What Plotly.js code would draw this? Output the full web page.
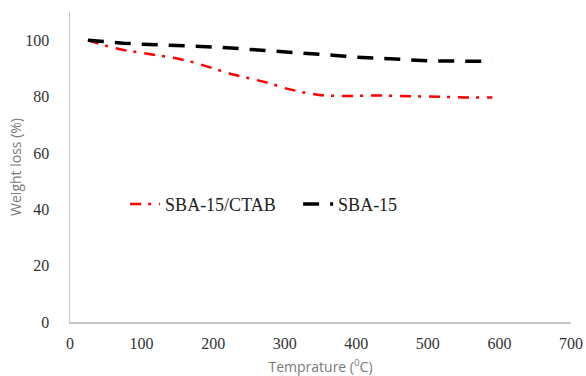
<!DOCTYPE html>
<html><head><meta charset="utf-8">
<script src="https://cdn.plot.ly/plotly-3.0.1.min.js"></script>
<style>body{margin:0;background:#fff}#c{width:586px;height:376px}</style>
</head><body><div id="c"></div>
<script>
const temperature = [25, 50, 75, 100, 125, 150, 175, 200, 225, 250, 275, 300, 325, 350, 375, 400, 425, 450, 475, 500, 525, 550, 575, 590];
const sbaCtab = [100, 98, 96.5, 95.5, 94.5, 93.5, 92, 90, 88, 86.5, 85, 83, 81.5, 80.5, 80.2, 80.2, 80.4, 80.3, 80.1, 79.9, 79.8, 79.7, 79.7, 79.7];
const sba15 = [100, 99.3, 98.9, 98.6, 98.4, 98.2, 98, 97.6, 97.2, 96.8, 96.3, 95.9, 95.4, 95, 94.5, 94, 93.6, 93.3, 93, 92.7, 92.6, 92.5, 92.5, 92.5];
const seriesNames = ["SBA-15/CTAB", "SBA-15"];
const xTicks = [0, 100, 200, 300, 400, 500, 600, 700];
const yTicks = [0, 20, 40, 60, 80, 100];

const traces = [
  {x: temperature, y: sbaCtab, name: seriesNames[0], mode: "lines",
   line: {color: "#ff0000", width: 2.5, dash: "11px,7px,3px,8px"}},
  {x: temperature, y: sba15, name: seriesNames[1], mode: "lines",
   line: {color: "#000000", width: 3.5, dash: "16px,11px"}}
];
const serif = "'Liberation Serif', 'Times New Roman', serif";
const layout = {
  width: 586, height: 376,
  margin: {l: 70, r: 15, t: 12, b: 54},
  paper_bgcolor: "#fff", plot_bgcolor: "#fff",
  showlegend: true,
  legend: {orientation: "h", x: 0.11, y: 0.38, xanchor: "left", yanchor: "middle",
           entrywidth: 128,
           font: {family: serif, size: 18, color: "#222"},
           bgcolor: "rgba(0,0,0,0)"},
  xaxis: {range: [0, 700], tickvals: xTicks, ticktext: xTicks.map(String),
          showgrid: false, zeroline: false, showline: true, linecolor: "#c8c8c8", linewidth: 1.5,
          ticks: "outside", ticklen: 6, tickcolor: "rgba(0,0,0,0)",
          tickfont: {family: serif, size: 16, color: "#333"},
          title: {text: "Temprature (<sup>0</sup>C)", font: {family: "Open Sans", size: 14, color: "#7a7a7a"}, standoff: 12}},
  yaxis: {range: [0, 110], tickvals: yTicks, ticktext: yTicks.map(String),
          showgrid: false, zeroline: false, showline: true, linecolor: "#c8c8c8", linewidth: 1.5,
          ticks: "outside", ticklen: 16, tickcolor: "rgba(0,0,0,0)",
          tickfont: {family: serif, size: 16, color: "#333"},
          title: {text: "Weight loss (%)", font: {family: "Open Sans", size: 14, color: "#7a7a7a"}, standoff: 0}}
};
Plotly.newPlot("c", traces, layout, {displayModeBar: false, staticPlot: true});
</script></body></html>
